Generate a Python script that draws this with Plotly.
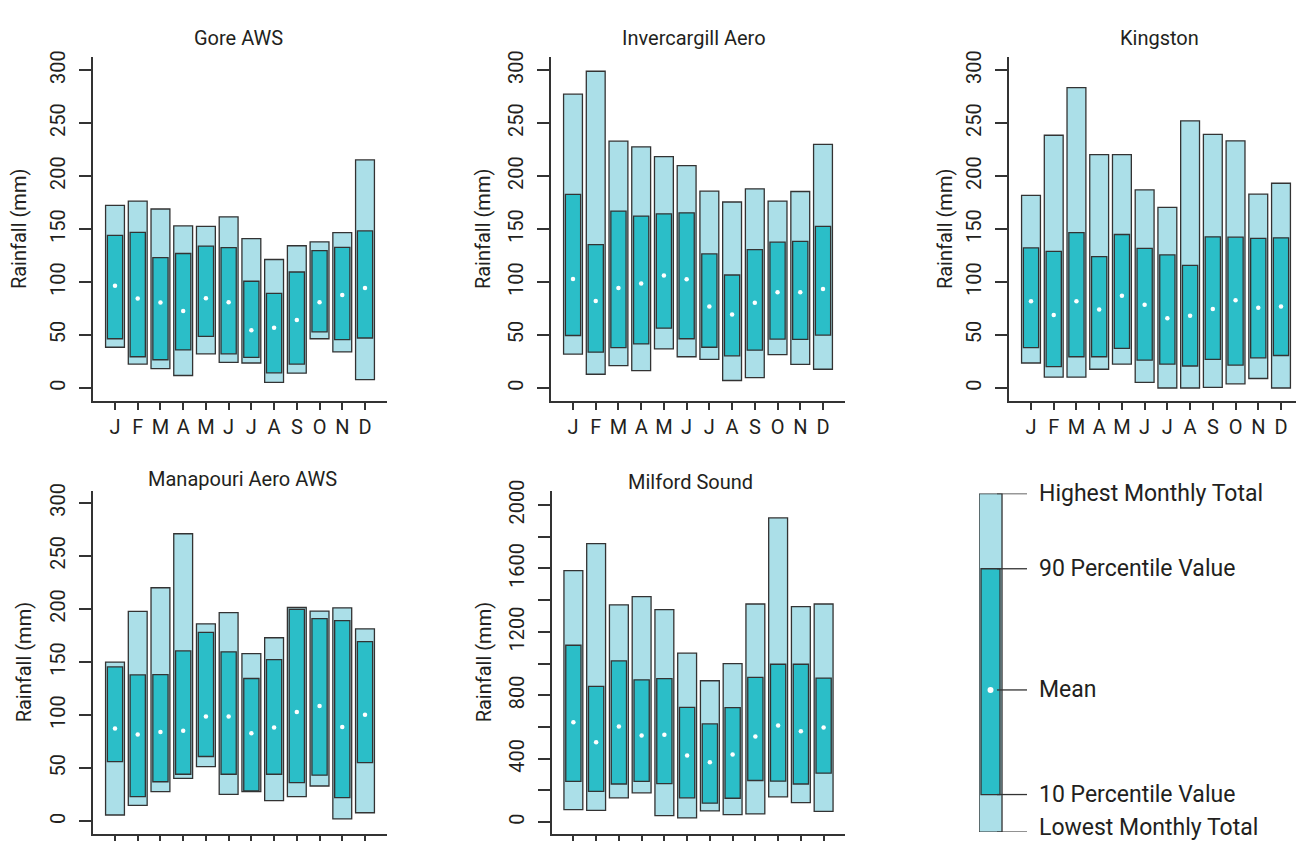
import plotly.graph_objects as go

# ---------------- data ----------------
MONTHS = ["J", "F", "M", "A", "M", "J", "J", "A", "S", "O", "N", "D"]
MONTH_POS = list(range(1, 13))

gore_low = [38.5, 22.6, 18.3, 11.8, 32.3, 24.2, 23.6, 5.3, 14.0, 46.5, 34.1, 8.0]
gore_p10 = [46.5, 29.5, 26.7, 36.0, 48.7, 32.3, 28.9, 14.3, 22.6, 53.0, 45.6, 47.2]
gore_mean = [96.5, 84.4, 80.7, 72.6, 84.7, 81.0, 54.6, 56.8, 64.2, 81.0, 87.8, 94.3]
gore_p90 = [144.0, 147.0, 123.0, 127.0, 134.0, 132.5, 100.8, 89.3, 109.5, 129.7, 132.8, 148.3]
gore_high = [172.5, 176.5, 169.0, 153.0, 152.6, 161.6, 141.0, 121.3, 134.3, 138.0, 146.7, 215.3]

inv_low = [32.0, 13.0, 21.1, 16.4, 36.9, 29.5, 27.0, 7.1, 9.9, 31.6, 22.3, 17.7]
inv_p10 = [49.6, 33.8, 38.2, 41.6, 56.5, 46.5, 38.5, 30.4, 35.7, 46.2, 45.9, 50.0]
inv_mean = [103.0, 82.2, 94.3, 98.7, 106.1, 102.7, 77.0, 69.5, 80.4, 90.3, 90.3, 93.4]
inv_p90 = [182.7, 135.3, 167.0, 162.3, 164.4, 165.4, 126.6, 106.7, 130.6, 137.7, 138.4, 152.6]
inv_high = [277.4, 299.0, 233.0, 227.7, 218.4, 210.0, 185.8, 175.6, 188.0, 176.5, 185.5, 230.0]

king_low = [23.6, 10.2, 10.2, 17.7, 22.6, 5.3, 0.0, 0.0, 0.6, 4.0, 9.0, 0.0]
king_p10 = [38.2, 20.2, 29.5, 29.5, 37.5, 26.4, 22.6, 20.8, 27.0, 21.7, 28.5, 30.7]
king_mean = [81.9, 68.9, 81.9, 74.1, 87.2, 78.5, 65.8, 68.3, 74.5, 82.8, 75.7, 77.0]
king_p90 = [132.2, 129.0, 146.7, 124.0, 144.9, 131.9, 125.6, 115.7, 142.7, 142.4, 141.2, 141.8]
king_high = [181.8, 238.6, 283.6, 220.3, 220.3, 187.0, 170.6, 252.2, 239.5, 233.3, 183.0, 193.3]

mana_low = [5.9, 14.9, 27.9, 40.3, 51.4, 25.4, 27.9, 19.5, 23.2, 33.2, 2.2, 8.0]
mana_p10 = [56.1, 23.2, 37.2, 44.3, 61.0, 44.3, 28.5, 44.3, 36.3, 43.4, 22.3, 55.2]
mana_mean = [87.4, 81.8, 84.0, 85.2, 98.6, 98.6, 83.0, 88.3, 102.9, 108.5, 88.9, 100.4]
mana_p90 = [145.4, 137.9, 138.2, 160.5, 177.9, 159.6, 134.5, 152.2, 199.6, 190.9, 189.0, 169.2]
mana_high = [150.0, 197.7, 220.0, 270.9, 186.0, 196.5, 158.0, 172.9, 201.4, 198.0, 201.1, 181.3]

milf_low = [79, 75, 154, 185, 41, 27, 71, 48, 52, 160, 124, 68]
milf_p10 = [257, 195, 241, 257, 243, 154, 120, 151, 263, 259, 241, 309]
milf_mean = [631, 504, 604, 546, 552, 421, 378, 427, 541, 610, 573, 598]
milf_p90 = [1116, 857, 1017, 898, 905, 724, 620, 722, 913, 996, 996, 909]
milf_high = [1587, 1757, 1371, 1423, 1340, 1066, 892, 1000, 1376, 1919, 1359, 1376]

STATION_NAMES = ["Gore AWS", "Invercargill Aero", "Kingston", "Manapouri Aero AWS", "Milford Sound"]

# illustrative key bar (fractions of the key's height)
KEY_LABELS = ["Lowest Monthly Total", "10 Percentile Value", "Mean", "90 Percentile Value", "Highest Monthly Total"]
KEY_VALUES = [0.0, 0.111, 0.42, 0.778, 1.0]

Y300_TICKS = [0, 50, 100, 150, 200, 250, 300]
MILF_TICKS = list(range(0, 2001, 200))
MILF_TICKTEXT = [str(v) if v % 400 == 0 else "" for v in MILF_TICKS]

# ---------------- style ----------------
LIGHT = "#abdfe8"
TEAL = "#2bbec8"
EDGE = "#333333"
TEXT = "#231f20"
FONT = "Roboto"
W, H = 1296, 841

stations = [
    (gore_low, gore_p10, gore_mean, gore_p90, gore_high),
    (inv_low, inv_p10, inv_mean, inv_p90, inv_high),
    (king_low, king_p10, king_mean, king_p90, king_high),
    (mana_low, mana_p10, mana_mean, mana_p90, mana_high),
    (milf_low, milf_p10, milf_mean, milf_p90, milf_high),
]

# pixel layout of each panel: (x_left, x_right, y_top, y_bottom)
panels_px = [
    (93, 387, 47, 395),
    (551, 845, 47, 395),
    (1009, 1296, 47, 395),
    (93, 387, 486, 834),
    (552, 845, 486, 834),
]
x_ranges = [[0.032, 12.968], [0.032, 12.968], [0.032, 12.66], [0.032, 12.968], [0.06, 12.94]]
y_ranges = [[-12.1, 312.1], [-12.1, 312.1], [-12.1, 312.1], [-12.1, 311.5], [-75, 2091]]
title_px = [(238, 27), (694, 27), (1159, 27), (242, 474), (690, 477)]
ytitle_shift = [-74, -68, -64, -69, -68]

fig = go.Figure()

for i, (low, p10, mean, p90, high) in enumerate(stations):
    xa = "x" if i == 0 else f"x{i+1}"
    ya = "y" if i == 0 else f"y{i+1}"
    fig.add_trace(go.Bar(
        x=MONTH_POS, y=[h - l for h, l in zip(high, low)], base=low, width=0.83,
        marker=dict(color=LIGHT, line=dict(color=EDGE, width=1.3)),
        xaxis=xa, yaxis=ya, showlegend=False, hoverinfo="skip"))
    fig.add_trace(go.Bar(
        x=MONTH_POS, y=[h - l for h, l in zip(p90, p10)], base=p10, width=0.67,
        marker=dict(color=TEAL, line=dict(color=EDGE, width=1.3)),
        xaxis=xa, yaxis=ya, showlegend=False, hoverinfo="skip"))
    fig.add_trace(go.Scatter(
        x=MONTH_POS, y=mean, mode="markers",
        marker=dict(color="white", size=4.5, line=dict(width=0)),
        xaxis=xa, yaxis=ya, showlegend=False, hoverinfo="skip"))

    x0, x1, yt, yb = panels_px[i]
    axis_common = dict(showline=True, linecolor=EDGE, linewidth=1.5, showgrid=False,
                       zeroline=False, ticks="outside", tickcolor=EDGE, tickwidth=1.5,
                       tickfont=dict(family=FONT, size=20, color=TEXT))
    xkey = "xaxis" if i == 0 else f"xaxis{i+1}"
    ykey = "yaxis" if i == 0 else f"yaxis{i+1}"
    fig.update_layout(**{
        xkey: dict(domain=[x0 / W, x1 / W], range=x_ranges[i], anchor=ya,
                   tickvals=MONTH_POS, ticktext=MONTHS, ticklen=7,
                   showticklabels=(i < 3), **axis_common),
        ykey: dict(domain=[1 - yb / H, 1 - yt / H], range=y_ranges[i], anchor=xa,
                   tickvals=(MILF_TICKS if i == 4 else Y300_TICKS),
                   ticktext=(MILF_TICKTEXT if i == 4 else [str(v) for v in Y300_TICKS]),
                   ticklen=12, tickangle=-90, ticklabelstandoff=6, **axis_common),
    })
    tx, ty = title_px[i]
    fig.add_annotation(text=STATION_NAMES[i], x=tx / W, y=1 - ty / H, xref="paper", yref="paper",
                       xanchor="center", yanchor="middle", showarrow=False,
                       font=dict(family=FONT, size=20, color=TEXT))
    fig.add_annotation(text="Rainfall (mm)", x=0, y=0.5, xref=f"{xa} domain", yref=f"{ya} domain",
                       xshift=ytitle_shift[i], xanchor="center", yanchor="middle", textangle=-90,
                       showarrow=False, font=dict(family=FONT, size=20, color=TEXT))

# ---------------- key panel ----------------
k_low, k_p10, k_mean, k_p90, k_high = KEY_VALUES
KEY_X = 0.24
fig.add_trace(go.Bar(x=[KEY_X], y=[k_high - k_low], base=[k_low], width=0.479,
                     marker=dict(color=LIGHT, line=dict(color=EDGE, width=1.3)),
                     xaxis="x6", yaxis="y6", showlegend=False, hoverinfo="skip"))
fig.add_trace(go.Bar(x=[KEY_X], y=[k_p90 - k_p10], base=[k_p10], width=0.396,
                     marker=dict(color=TEAL, line=dict(color=EDGE, width=1.3)),
                     xaxis="x6", yaxis="y6", showlegend=False, hoverinfo="skip"))
fig.add_trace(go.Scatter(x=[KEY_X], y=[k_mean], mode="markers",
                         marker=dict(color="white", size=6, line=dict(width=0)),
                         xaxis="x6", yaxis="y6", showlegend=False, hoverinfo="skip"))
fig.update_layout(
    xaxis6=dict(domain=[979 / W, 1027 / W], range=[0, 1], visible=False, anchor="y6"),
    yaxis6=dict(domain=[1 - 832 / H, 1 - 489 / H], range=[0, 1], visible=False, anchor="x6"),
)
for lab, val in zip(KEY_LABELS, KEY_VALUES):
    fig.add_shape(type="line", xref="x6", yref="y6", x0=0.375, x1=1.0, y0=val, y1=val,
                  line=dict(color=EDGE, width=1.3))
    fig.add_annotation(text=lab, x=1.0, y=val, xref="x6", yref="y6", xshift=10,
                       yshift=(5 if val == k_low else 0),
                       xanchor="left", yanchor="middle", showarrow=False,
                       font=dict(family=FONT, size=23, color=TEXT))

fig.update_layout(
    width=W, height=H, margin=dict(l=0, r=0, t=0, b=0),
    paper_bgcolor="white", plot_bgcolor="white", barmode="overlay",
    font=dict(family=FONT, color=TEXT),
)

fig.write_html("out.html", config={"displayModeBar": False},
               post_script="document.body.style.margin='0';document.body.style.overflow='hidden';")
